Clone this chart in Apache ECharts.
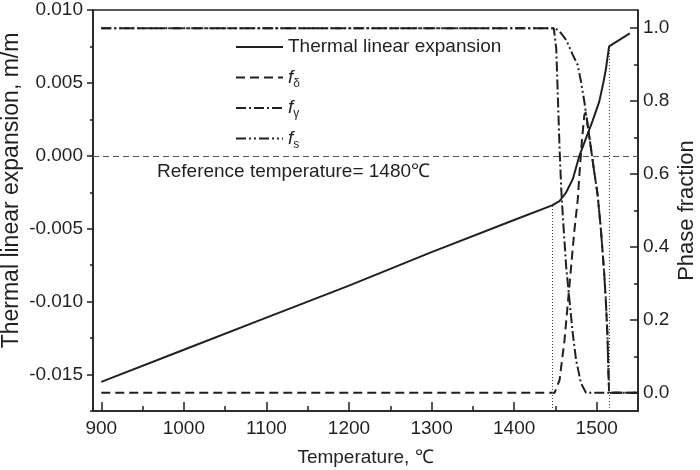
<!DOCTYPE html>
<html lang="en">
<head>
    <meta charset="utf-8"/>
    <title>Thermal linear expansion and phase fraction</title>
    <script src="https://cdn.jsdelivr.net/npm/echarts@6/dist/echarts.min.js"></script>
</head>
<style>
    * { margin: 0; padding: 0; }
    html, body { width: 100%; height: 100%; background: #fff; }
    .main { width: 700px; height: 470px; }
</style>
<body>
<div id="main" class="main"></div>
</body>
<script type="text/javascript">
    // 热膨胀曲线 (左轴, m/m)
    var thermalT = [900, 1000, 1100, 1200, 1300, 1400, 1446, 1455, 1463, 1471, 1479, 1487, 1495, 1503, 1508, 1511, 1515, 1540];
    var thermalV = [-0.0155, -0.0133, -0.0111, -0.0089, -0.0066, -0.0044, -0.0034, -0.0031, -0.0025, -0.0016, 0.0000, 0.0012, 0.0024, 0.0037, 0.0050, 0.0059, 0.0075, 0.0084];

    // 相分数 (右轴)
    var deltaT = [900, 1449, 1455, 1461, 1465, 1469, 1473, 1477, 1479, 1482, 1485, 1487, 1489, 1493, 1497, 1501, 1505, 1509, 1511, 1513, 1514, 1515, 1550];
    var deltaV = [0, 0, 0.035, 0.144, 0.245, 0.346, 0.446, 0.529, 0.597, 0.689, 0.762, 0.770, 0.735, 0.671, 0.606, 0.545, 0.450, 0.330, 0.254, 0.160, 0.070, 0, 0];
    var gammaT = [900, 1448, 1451, 1453, 1455, 1457, 1459, 1463, 1467, 1471, 1475, 1481, 1487, 1550];
    var gammaV = [1, 1, 0.945, 0.808, 0.671, 0.561, 0.483, 0.346, 0.254, 0.163, 0.090, 0.026, 0, 0];
    var solidT = [900, 1450, 1457, 1463, 1471, 1477, 1481, 1485, 1489, 1493, 1497, 1501, 1505, 1509, 1511, 1513, 1514, 1515, 1550];
    var solidV = [1, 1, 0.986, 0.968, 0.927, 0.899, 0.853, 0.799, 0.735, 0.671, 0.606, 0.545, 0.450, 0.330, 0.254, 0.160, 0.070, 0, 0];

    // 竖直点线: 温度与对应膨胀值
    var dropT = [1446, 1515];
    var dropV = [-0.0034, 0.0075];

    // 刻度
    var xMajor = [900, 1000, 1100, 1200, 1300, 1400, 1500];
    var xMinor = [950, 1050, 1150, 1250, 1350, 1450];
    var yLeftMajor = [-0.015, -0.010, -0.005, 0.000, 0.005, 0.010];
    var yLeftMinor = [-0.0175, -0.0125, -0.0075, -0.0025, 0.0025, 0.0075];
    var yRightMajor = [0, 0.2, 0.4, 0.6, 0.8, 1.0];
    var yRightMinor = [0.1, 0.3, 0.5, 0.7, 0.9];

    var seriesNames = ['Thermal linear expansion', 'f_delta', 'f_gamma', 'f_s'];
    var legendLabels = ['Thermal linear expansion', '{f|f}{sub|δ}', '{f|f}{sub|γ}', '{f|f}{sub|s}'];

    var ink = '#231f20';
    var font = "'Liberation Sans', Arial, sans-serif";
    var xMin = 890, xMax = 1550;
    var yLMin = -0.0175, yLMax = 0.010;
    var yRMin = -0.05, yRMax = 1.05;

    function pairs(xs, ys) {
        return xs.map(function (x, i) { return [x, ys[i]]; });
    }

    var dropLines = dropT.map(function (t, i) {
        return [{coord: [t, yLMin]}, {coord: [t, dropV[i]]}];
    });

    var chart = echarts.init(document.getElementById('main'));

    var option = {
        animation: false,
        backgroundColor: '#fff',
        textStyle: {fontFamily: font, color: ink},
        grid: {
            left: 93, right: 62, top: 10, bottom: 59,
            outerBoundsMode: 'none', containLabel: false,
            show: true, borderColor: ink, borderWidth: 1.5, backgroundColor: 'transparent'
        },
        legend: {
            orient: 'vertical',
            left: 235, top: 35,
            padding: 0,
            itemWidth: 47, itemHeight: 14,
            itemGap: 6.5,
            data: seriesNames,
            itemStyle: {opacity: 0},
            formatter: function (name) { return legendLabels[seriesNames.indexOf(name)]; },
            textStyle: {
                fontFamily: font, fontSize: 19, color: ink, lineHeight: 24,
                rich: {
                    f: {fontFamily: font, fontSize: 19, fontStyle: 'italic', color: ink, lineHeight: 24},
                    sub: {fontFamily: font, fontSize: 12, color: ink, lineHeight: 9, verticalAlign: 'bottom'}
                }
            }
        },
        xAxis: [
            {
                type: 'value', min: xMin, max: xMax, position: 'bottom',
                name: 'Temperature, ℃', nameLocation: 'middle', nameGap: 37, nameMoveOverlap: false,
                nameTextStyle: {fontFamily: font, fontSize: 19, color: ink},
                axisLine: {onZero: false, lineStyle: {color: ink, width: 1.5}},
                axisTick: {inside: true, length: 9, customValues: xMajor, lineStyle: {color: ink, width: 1.5}},
                axisLabel: {
                    customValues: xMajor, margin: 8, fontSize: 19, color: ink, fontFamily: font,
                    formatter: function (v) { return String(v); }
                },
                splitLine: {show: false}
            },
            {
                type: 'value', min: xMin, max: xMax, position: 'bottom',
                axisLine: {show: false, onZero: false},
                axisTick: {inside: true, length: 5, customValues: xMinor, lineStyle: {color: ink, width: 1.5}},
                axisLabel: {show: false},
                splitLine: {show: false}
            }
        ],
        yAxis: [
            {
                type: 'value', min: yLMin, max: yLMax, position: 'left',
                name: 'Thermal linear expansion, m/m', nameLocation: 'middle', nameGap: 70, nameMoveOverlap: false,
                nameTextStyle: {fontFamily: font, fontSize: 23, color: ink, padding: [0, 0, 0, 40]},
                axisLine: {show: true, onZero: false, lineStyle: {color: ink, width: 1.5}},
                axisTick: {inside: false, length: 6, customValues: yLeftMajor, lineStyle: {color: ink, width: 1.5}},
                axisLabel: {
                    customValues: yLeftMajor, margin: 10, fontSize: 19, color: ink, fontFamily: font,
                    formatter: function (v) { return v.toFixed(3); }
                },
                splitLine: {show: false}
            },
            {
                type: 'value', min: yLMin, max: yLMax, position: 'left',
                axisLine: {show: false, onZero: false},
                axisTick: {inside: false, length: 3, customValues: yLeftMinor, lineStyle: {color: ink, width: 1.5}},
                axisLabel: {show: false},
                splitLine: {show: false}
            },
            {
                type: 'value', min: yRMin, max: yRMax, position: 'right',
                name: 'Phase fraction', nameLocation: 'middle', nameGap: 38, nameMoveOverlap: false,
                nameTextStyle: {fontFamily: font, fontSize: 22, color: ink},
                axisLine: {show: true, onZero: false, lineStyle: {color: ink, width: 1.5}},
                axisTick: {inside: true, length: 8, customValues: yRightMajor, lineStyle: {color: ink, width: 1.5}},
                axisLabel: {
                    customValues: yRightMajor, margin: 5, fontSize: 19, color: ink, fontFamily: font,
                    formatter: function (v) { return v.toFixed(1); }
                },
                splitLine: {show: false}
            },
            {
                type: 'value', min: yRMin, max: yRMax, position: 'right',
                axisLine: {show: false, onZero: false},
                axisTick: {inside: true, length: 4, customValues: yRightMinor, lineStyle: {color: ink, width: 1.5}},
                axisLabel: {show: false},
                splitLine: {show: false}
            }
        ],
        graphic: [
            {
                type: 'text', left: 157, top: 162,
                style: {text: 'Reference temperature= 1480℃', font: '19px ' + font, fill: ink}
            }
        ],
        series: [
            {
                name: seriesNames[0], type: 'line', xAxisIndex: 0, yAxisIndex: 0,
                symbol: 'none', z: 5,
                lineStyle: {color: ink, width: 2, type: 'solid'},
                itemStyle: {color: ink},
                data: pairs(thermalT, thermalV),
                markLine: {
                    silent: true, symbol: 'none',
                    label: {show: false},
                    lineStyle: {color: '#555', width: 1, type: [6, 4]},
                    data: [{yAxis: 0}]
                }
            },
            {
                name: seriesNames[1], type: 'line', xAxisIndex: 0, yAxisIndex: 2,
                symbol: 'none', z: 4,
                lineStyle: {color: ink, width: 2, type: [9, 5]},
                itemStyle: {color: ink},
                data: pairs(deltaT, deltaV)
            },
            {
                name: seriesNames[2], type: 'line', xAxisIndex: 0, yAxisIndex: 2,
                symbol: 'none', z: 3,
                lineStyle: {color: ink, width: 2, type: [10, 3, 2, 3]},
                itemStyle: {color: ink},
                data: pairs(gammaT, gammaV)
            },
            {
                name: seriesNames[3], type: 'line', xAxisIndex: 0, yAxisIndex: 2,
                symbol: 'none', z: 3,
                lineStyle: {color: ink, width: 2, type: [10, 3, 2, 3, 2, 3]},
                itemStyle: {color: ink},
                data: pairs(solidT, solidV)
            },
            {
                // 竖直点线
                name: 'drop', type: 'line', xAxisIndex: 0, yAxisIndex: 0,
                data: [], silent: true,
                markLine: {
                    silent: true, symbol: 'none',
                    label: {show: false},
                    lineStyle: {color: '#444', width: 1, type: [1, 2]},
                    data: dropLines
                }
            }
        ]
    };
    chart.setOption(option);
</script>
</html>
